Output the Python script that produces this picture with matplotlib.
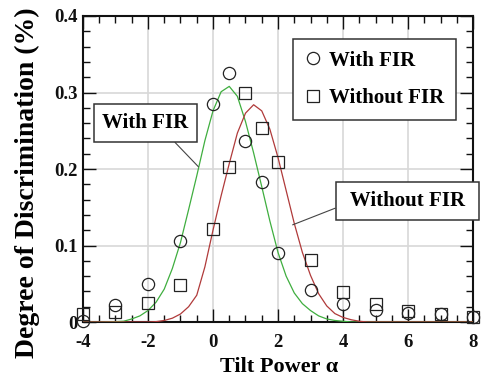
import matplotlib
matplotlib.use("Agg")
import matplotlib.pyplot as plt
from matplotlib.ticker import MultipleLocator, FixedLocator, FixedFormatter

# ---- data ----
alpha_pts = [-4, -3, -2, -1, 0, 0.5, 1, 1.5, 2, 3, 4, 5, 6, 7, 8]
with_fir = [0.001, 0.022, 0.050, 0.106, 0.285, 0.325, 0.236, 0.183, 0.090,
            0.042, 0.023, 0.016, 0.012, 0.010, 0.007]
without_fir = [0.011, 0.013, 0.025, 0.049, 0.121, 0.202, 0.300, 0.253, 0.209,
               0.081, 0.039, 0.023, 0.015, 0.010, 0.007]

curve_x = [-4.0, -3.5, -3.0, -2.75, -2.5, -2.25, -2.0, -1.75, -1.5, -1.25, -1.0,
           -0.75, -0.5, -0.25, 0.0, 0.25, 0.5, 0.75, 1.0, 1.25, 1.5, 1.75,
           2.0, 2.25, 2.5, 2.75, 3.0, 3.25, 3.5, 3.75, 4.0, 4.25, 4.5, 4.75,
           5.0, 6.0, 7.0, 8.0]
curve_with = [0.0, 0.0, 0.0005, 0.001, 0.004, 0.008, 0.015, 0.026, 0.043, 0.070,
              0.104, 0.147, 0.191, 0.237, 0.276, 0.301, 0.308, 0.295, 0.262,
              0.221, 0.177, 0.132, 0.091, 0.060, 0.038, 0.024, 0.015, 0.008,
              0.004, 0.002, 0.001, 0.0, 0.0, 0.0, 0.0, 0.0, 0.0, 0.0]
curve_without = [0.0, 0.0, 0.0, 0.0, 0.0, 0.0, 0.0, 0.0005, 0.002, 0.005,
                 0.0105, 0.020, 0.035, 0.072, 0.120, 0.165, 0.207, 0.247,
                 0.273, 0.284, 0.276, 0.252, 0.215, 0.172, 0.129, 0.091,
                 0.061, 0.037, 0.021, 0.011, 0.006, 0.003, 0.001, 0.0,
                 0.0, 0.0, 0.0, 0.0]

x_ticks = [-4, -2, 0, 2, 4, 6, 8]
x_ticklabels = ["-4", "-2", "0", "2", "4", "6", "8"]
y_ticks = [0, 0.1, 0.2, 0.3, 0.4]
y_ticklabels = ["0", "0.1", "0.2", "0.3", "0.4"]

# ---- style ----
plt.rcParams['font.family'] = ['Liberation Serif', 'DejaVu Serif']
plt.rcParams['font.weight'] = 'bold'

fig = plt.figure(figsize=(4.85, 3.8), dpi=100)
ax = fig.add_axes([0.1711, 0.1526, 0.9753 - 0.1711, 0.9579 - 0.1526])

green = '#3fae3f'
red = '#b03a3a'
mk = '#222222'

ax.plot(curve_x, curve_with, color=green, lw=0.9, zorder=3)
ax.plot(curve_x, curve_without, color=red, lw=0.9, zorder=3)

ax.plot(alpha_pts, with_fir, ls='none', marker='o', ms=8.8, mfc='none',
        mec=mk, mew=0.9, clip_on=False, zorder=4, label='With FIR')
ax.plot(alpha_pts, without_fir, ls='none', marker='s', ms=8.0, mfc='none',
        mec=mk, mew=0.9, clip_on=False, zorder=4, label='Without FIR')

ax.set_xlim(-4, 8)
ax.set_ylim(0, 0.4)
ax.xaxis.set_major_locator(FixedLocator(x_ticks))
ax.xaxis.set_major_formatter(FixedFormatter(x_ticklabels))
ax.yaxis.set_major_locator(FixedLocator(y_ticks))
ax.yaxis.set_major_formatter(FixedFormatter(y_ticklabels))
ax.xaxis.set_minor_locator(MultipleLocator(0.5))
ax.yaxis.set_minor_locator(MultipleLocator(0.02))

ax.grid(True, which='major', color='#d8d8d8', lw=1.2, zorder=0)
ax.set_axisbelow(True)

ax.tick_params(which='both', direction='in', top=True, right=True,
               colors='#111111', width=1.0)
ax.tick_params(which='major', length=9.5)
ax.tick_params(which='minor', length=5)
ax.tick_params(axis='x', which='major', pad=8.5, labelsize=13.5)
ax.tick_params(axis='y', which='major', pad=3.5, labelsize=13.5)
for lab in ax.get_xticklabels() + ax.get_yticklabels():
    lab.set_fontweight('bold')

for s in ax.spines.values():
    s.set_linewidth(1.5)
    s.set_color('#111111')

ax.set_xlabel('Tilt Power α', fontsize=16, fontweight='bold')
ax.set_ylabel('Degree of Discrimination (%)', fontsize=20, fontweight='bold')
ax.xaxis.set_label_coords(0.503, -0.115)
ax.yaxis.set_label_coords(-0.11, 0.455)

leg = ax.legend(loc='upper left', bbox_to_anchor=(0.538, 0.924),
                borderaxespad=0, frameon=True, fancybox=False,
                prop={'size': 15, 'weight': 'bold'}, handlelength=0.8,
                handletextpad=0.4, labelspacing=0.85, borderpad=0.55,
                edgecolor='#333333', framealpha=1)
leg.get_frame().set_linewidth(1.1)

box = dict(boxstyle='square,pad=0.42', fc='white', ec='#333333', lw=1.1)
ax.annotate('With FIR', xy=(-0.45, 0.203), xytext=(-2.08, 0.260),
            ha='center', va='center', fontsize=15, fontweight='bold',
            bbox=box, annotation_clip=False, zorder=6,
            arrowprops=dict(arrowstyle='-', color='#444444', lw=0.8,
                            relpos=(0.74, 0.0), shrinkA=0, shrinkB=0))
ax.annotate(' Without FIR ', xy=(2.45, 0.127), xytext=(5.975, 0.158),
            ha='center', va='center', fontsize=15, fontweight='bold',
            bbox=box, annotation_clip=False, zorder=6,
            arrowprops=dict(arrowstyle='-', color='#444444', lw=0.8,
                            relpos=(0.0, 0.33), shrinkA=0, shrinkB=0))

fig.savefig('out.png', dpi=100)
